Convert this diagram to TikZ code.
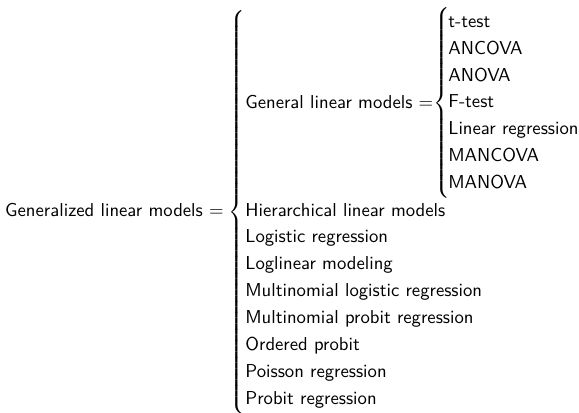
\documentclass[tikz,border=0pt]{standalone}
\usepackage{amsmath}
\usetikzlibrary{positioning}

% a curly brace of a given height, centred on the math axis
\newcommand{\tallbrace}[1]{$\delimiterfactor=1000 \delimitershortfall=0pt
  \left\{\vcenter{\hrule height #1 width 0pt}\right.$}

\begin{document}
\begin{tikzpicture}[
    x=0.535pt, y=-0.535pt,
    term/.style={font=\sffamily, inner sep=0pt, anchor=base west},
    bracenode/.style={inner sep=0pt, anchor=west}
]
\useasboundingbox (0,0) rectangle (579,412);

\node[term, anchor=base east] (glm) at (224,216) {Generalized linear models $=$};
\node[bracenode] (outer) at (228,212) {\tallbrace{214pt}};

\node[term] (general) at (245,108) {General linear models $=$};
\node[bracenode] (inner) at (433,103) {\tallbrace{100pt}};

% members of the general linear models
\foreach \name [count=\i from 0] in {t-test, ANCOVA, ANOVA, F-test,
    Linear regression, MANCOVA, MANOVA}
  \node[term] (gen\i) at (448,27.2+26.93*\i) {\name};

% the other generalized linear models
\foreach \name [count=\i from 0] in {Hierarchical linear models,
    Logistic regression, Loglinear modeling,
    Multinomial logistic regression, Multinomial probit regression,
    Ordered probit, Poisson regression, Probit regression}
  \node[term] (other\i) at (245,216+26.93*\i) {\name};

\end{tikzpicture}
\end{document}
